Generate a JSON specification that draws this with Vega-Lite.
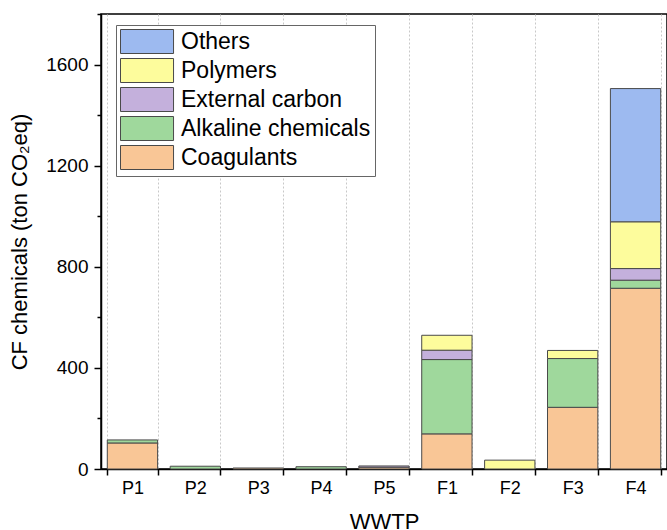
{
  "$schema": "https://vega.github.io/schema/vega-lite/v6.json",
  "width": 566,
  "height": 455,
  "autosize": {"type": "none"},
  "padding": {"left": 101, "top": 14, "right": 0, "bottom": 61},
  "background": "white",
  "config": {"font": "Liberation Sans", "view": {"stroke": "black", "strokeWidth": 1.5}},
  "data": {
    "values": [
      {"WWTP": "P1", "Type": "Coagulants", "CF": 103},
      {"WWTP": "P1", "Type": "Alkaline chemicals", "CF": 12},
      {"WWTP": "P2", "Type": "Alkaline chemicals", "CF": 11},
      {"WWTP": "P3", "Type": "Coagulants", "CF": 4},
      {"WWTP": "P4", "Type": "Alkaline chemicals", "CF": 9},
      {"WWTP": "P5", "Type": "Coagulants", "CF": 7},
      {"WWTP": "P5", "Type": "External carbon", "CF": 5},
      {"WWTP": "F1", "Type": "Coagulants", "CF": 139},
      {"WWTP": "F1", "Type": "Alkaline chemicals", "CF": 294},
      {"WWTP": "F1", "Type": "External carbon", "CF": 37},
      {"WWTP": "F1", "Type": "Polymers", "CF": 59},
      {"WWTP": "F2", "Type": "Polymers", "CF": 35},
      {"WWTP": "F3", "Type": "Coagulants", "CF": 244},
      {"WWTP": "F3", "Type": "Alkaline chemicals", "CF": 193},
      {"WWTP": "F3", "Type": "Polymers", "CF": 32},
      {"WWTP": "F4", "Type": "Coagulants", "CF": 715},
      {"WWTP": "F4", "Type": "Alkaline chemicals", "CF": 32},
      {"WWTP": "F4", "Type": "External carbon", "CF": 46},
      {"WWTP": "F4", "Type": "Polymers", "CF": 185},
      {"WWTP": "F4", "Type": "Others", "CF": 527}
    ]
  },
  "transform": [
    {"calculate": "indexof(['Coagulants','Alkaline chemicals','External carbon','Polymers','Others'], datum.Type)", "as": "StackOrder"}
  ],
  "mark": {"type": "bar", "stroke": "#4a4a4a", "strokeWidth": 1},
  "encoding": {
    "x": {
      "field": "WWTP",
      "type": "nominal",
      "sort": ["P1", "P2", "P3", "P4", "P5", "F1", "F2", "F3", "F4"],
      "scale": {"paddingInner": 0.2, "paddingOuter": 0.1},
      "axis": {
        "title": "WWTP",
        "labelAngle": 0,
        "tickBand": "extent",
        "grid": true,
        "gridDash": [2, 2],
        "gridColor": "#c8c8c8",
        "gridWidth": 1,
        "domainColor": "black",
        "domainWidth": 1.5,
        "tickColor": "black",
        "tickWidth": 1.5,
        "tickSize": 6,
        "labelFontSize": 18,
        "labelColor": "black",
        "labelPadding": 4,
        "titleFontSize": 22,
        "titleFontWeight": "normal",
        "titleColor": "black",
        "titlePadding": 14
      }
    },
    "y": {
      "field": "CF",
      "type": "quantitative",
      "stack": "zero",
      "scale": {"domain": [0, 1800], "nice": false},
      "axis": {
        "title": "CF chemicals (ton CO₂eq)",
        "values": [0, 200, 400, 600, 800, 1000, 1200, 1400, 1600, 1800],
        "format": "d",
        "labelExpr": "datum.value % 400 === 0 ? datum.label : ''",
        "grid": false,
        "domainColor": "black",
        "domainWidth": 1.5,
        "tickColor": "black",
        "tickWidth": 1.5,
        "tickSize": {"condition": {"test": "datum.value % 400 === 0", "value": 7}, "value": 4},
        "labelFontSize": 19,
        "labelColor": "black",
        "labelPadding": 6,
        "titleFontSize": 22,
        "titleFontWeight": "normal",
        "titleColor": "black",
        "titlePadding": 14
      }
    },
    "order": {"field": "StackOrder", "type": "quantitative", "sort": "ascending"},
    "color": {
      "field": "Type",
      "type": "nominal",
      "sort": ["Others", "Polymers", "External carbon", "Alkaline chemicals", "Coagulants"],
      "scale": {
        "domain": ["Others", "Polymers", "External carbon", "Alkaline chemicals", "Coagulants"],
        "range": ["#9dbaf0", "#fdfc9c", "#c4b0dc", "#9fd89c", "#f9c696"]
      },
      "legend": {
        "orient": "none",
        "legendX": 15,
        "legendY": 11,
        "title": null,
        "symbolType": "M-1,-1H3.42V1H-1Z",
        "symbolSize": 576,
        "symbolStrokeColor": "#4a4a4a",
        "symbolStrokeWidth": 1,
        "symbolOpacity": 1,
        "labelFontSize": 23,
        "labelColor": "black",
        "labelOffset": 36,
        "labelLimit": 300,
        "rowPadding": 0,
        "padding": 4,
        "strokeColor": "#666666",
        "fillColor": "white"
      }
    }
  }
}
